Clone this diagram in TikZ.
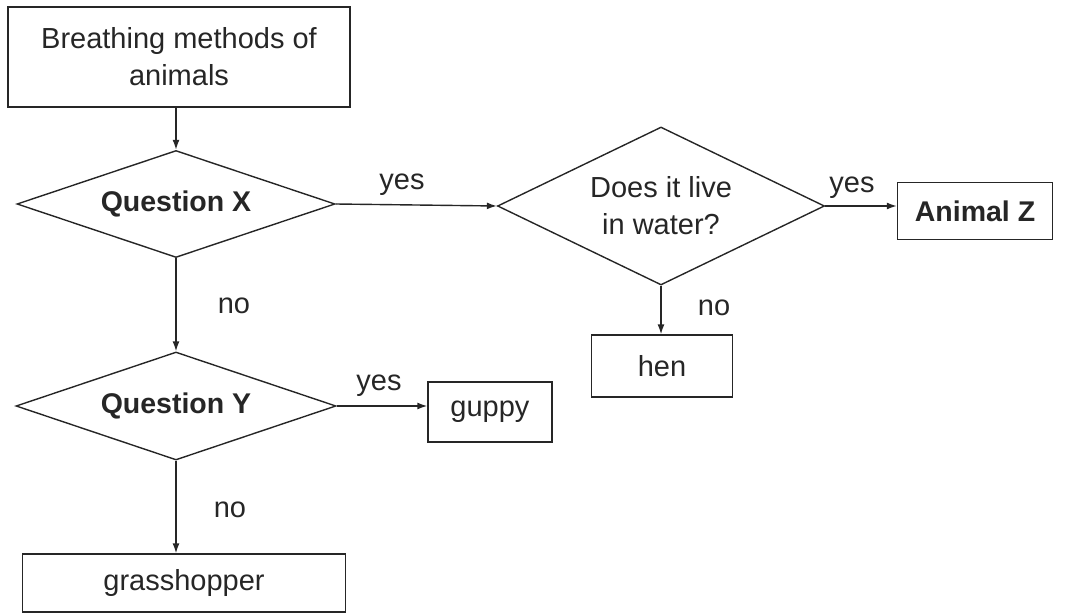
\documentclass[tikz,border=0pt]{standalone}
\usepackage{fontspec}
\setmainfont{Liberation Sans}
\usetikzlibrary{shapes.geometric,arrows.meta}
\begin{document}
\begin{tikzpicture}[x=1pt,y=-1pt,
  ink/.style={draw=black!85, line width=1.4pt},
  txt/.style={text=black!85, font=\fontsize{29}{37}\selectfont, align=center},
  boldtxt/.style={font=\fontsize{28.5}{37}\selectfont\bfseries},
  boxnode/.style={ink, txt, rectangle, inner sep=0pt},
  decision/.style={ink, txt, diamond, inner sep=0pt, aspect=2},
  conn/.style={ink, -{Latex[length=10pt,width=7pt]}},
  lbl/.style={txt, inner sep=0pt}
]
\useasboundingbox (0,0) rectangle (1065,615);
\node[boxnode, minimum width=342pt, minimum height=100pt] (start) at (179,57) {Breathing methods of\\animals};
\node[decision, boldtxt, minimum width=318pt, minimum height=107pt] (qx) at (176,204) {Question X};
\node[decision, minimum width=327pt, minimum height=158pt] (dw) at (661,206) {Does it live\\in water?};
\node[boxnode, boldtxt, minimum width=155pt, minimum height=57pt] (z) at (975,211) {Animal Z};
\node[boxnode, minimum width=141pt, minimum height=62pt] (hen) at (662,366) {hen};
\node[decision, boldtxt, minimum width=320pt, minimum height=108pt] (qy) at (176,406) {Question Y};
\node[boxnode, minimum width=124pt, minimum height=60pt] (guppy) at (490,412) {guppy};
\node[boxnode, minimum width=323pt, minimum height=58pt] (grass) at (184,583) {grasshopper};

\draw[conn] (start.south -| qx.north) -- (qx.north);
\draw[conn] (qx.east) -- (dw.west);
\draw[conn] (dw.east) -- (z.west |- dw.east);
\draw[conn] (dw.south) -- (hen.north -| dw.south);
\draw[conn] (qx.south) -- (qy.north);
\draw[conn] (qy.east) -- (guppy.west |- qy.east);
\draw[conn] (qy.south) -- (grass.north -| qy.south);

\node[lbl] (l1) at (402,185) {yes};
\node[lbl] (l2) at (852,188) {yes};
\node[lbl] (l3) at (714,308) {no};
\node[lbl] (l4) at (234,306) {no};
\node[lbl] (l5) at (379,386) {yes};
\node[lbl] (l6) at (230,510) {no};
\end{tikzpicture}
\end{document}
